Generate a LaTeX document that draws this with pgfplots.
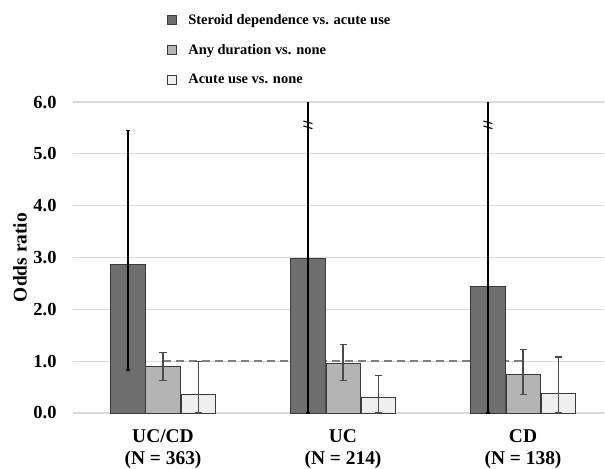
\documentclass[border=0pt]{standalone}
\usepackage{pgfplots}
\pgfplotsset{compat=1.18}
\usepackage{fontspec}
\setmainfont{Liberation Serif}
\definecolor{cdark}{HTML}{6E6E6E}
\definecolor{cmed}{HTML}{B4B4B4}
\definecolor{clight}{HTML}{EFEFEF}
\definecolor{cedge}{HTML}{3A3A3A}
\definecolor{cerr}{HTML}{4A4A4A}
\definecolor{cgrid}{HTML}{D9D9D9}
\definecolor{cdash}{HTML}{7F7F7F}
\pgfdeclareplotmark{brk}{%
  \pgfsetlinewidth{1.1bp}%
  \pgfpathmoveto{\pgfpoint{-4.5bp}{3.8bp}}\pgfpathlineto{\pgfpoint{4.5bp}{1.2bp}}%
  \pgfpathmoveto{\pgfpoint{-4.5bp}{-1.2bp}}\pgfpathlineto{\pgfpoint{4.5bp}{-3.8bp}}%
  \pgfusepathqstroke}
\begin{document}
\begin{tikzpicture}
\useasboundingbox (-73bp,-56bp) rectangle (532bp,413bp);
\begin{axis}[
  at={(0,0)}, anchor=south west,
  scale only axis, width=531bp, height=311bp,
  xmin=0.5, xmax=3.45, ymin=0, ymax=6,
  ytick={0,1,2,3,4,5,6},
  xtick={1,2,3},
  xticklabels={{UC/CD\\(N = 363)},{UC\\(N = 214)},{CD\\(N = 138)}},
  xticklabel style={align=center, font=\fontsize{19.5}{22.5}\selectfont\bfseries, yshift=-13bp},
  yticklabel style={font=\fontsize{18.5}{20}\selectfont\bfseries, xshift=-13bp},
  /pgf/number format/.cd, fixed, fixed zerofill, precision=1, assume math mode=true,
  /pgfplots/.cd,
  ymajorgrids, grid style={cgrid, line width=1.1bp},
  major tick length=0pt,
  axis line style={draw=none},
  ylabel={Odds ratio},
  every axis y label/.style={at={(axis description cs:-0.1,0.5)}, rotate=90, anchor=center, font=\fontsize{19.5}{21}\selectfont\bfseries},
  legend style={at={(0.176,1.29)}, anchor=north west, draw=none, fill=none,
    font=\fontsize{14.5}{16}\selectfont\bfseries, row sep=14.5bp,
    cells={anchor=west}, inner sep=0pt},
  legend image code/.code={\draw[#1, line width=0.7bp] (0bp,-4.5bp) rectangle (9bp,4.5bp);},
  clip=true,
]
\addplot[forget plot, color=cdash, line width=2.4bp, dash pattern=on 8bp off 5bp] coordinates {(1,1) (3,1)};

\addplot[ybar, bar width=0.19, bar shift=0, fill=cdark, draw=cedge, line width=0.8bp,
  error bars/.cd, y dir=both, y explicit, error mark options={rotate=90, mark size=2.2bp, line width=1.2bp, black},
  error bar style={black, line width=1.8bp}]
  coordinates {(0.805,2.87) -= (0,2.04) += (0,2.58)
               (1.805,2.99) -= (0,2.99) += (0,5.0)
               (2.805,2.44) -= (0,2.44) += (0,5.0)};
\addlegendentry{\hspace{10bp}Steroid dependence vs. acute use}

\addplot[ybar, bar width=0.19, bar shift=0, fill=cmed, draw=cedge, line width=0.8bp,
  error bars/.cd, y dir=both, y explicit, error mark options={rotate=90, mark size=3.5bp, line width=1.1bp, cerr},
  error bar style={cerr, line width=1.1bp}]
  coordinates {(1,0.89) -= (0,0.26) += (0,0.28)
               (2,0.96) -= (0,0.34) += (0,0.37)
               (3,0.75) -= (0,0.39) += (0,0.47)};
\addlegendentry{\hspace{10bp}Any duration vs. none}

\addplot[ybar, bar width=0.19, bar shift=0, fill=clight, draw=cedge, line width=0.8bp,
  error bars/.cd, y dir=both, y explicit, error mark options={rotate=90, mark size=3.5bp, line width=1.1bp, cerr},
  error bar style={cerr, line width=1.1bp}]
  coordinates {(1.195,0.35) -= (0,0.35) += (0,0.64)
               (2.195,0.31) -= (0,0.31) += (0,0.41)
               (3.195,0.38) -= (0,0.38) += (0,0.70)};
\addlegendentry{\hspace{10bp}Acute use vs. none}

\addplot[forget plot, only marks, mark=brk, mark options={black}] coordinates {(1.805,5.56) (2.805,5.56)};
\end{axis}
\end{tikzpicture}
\end{document}
